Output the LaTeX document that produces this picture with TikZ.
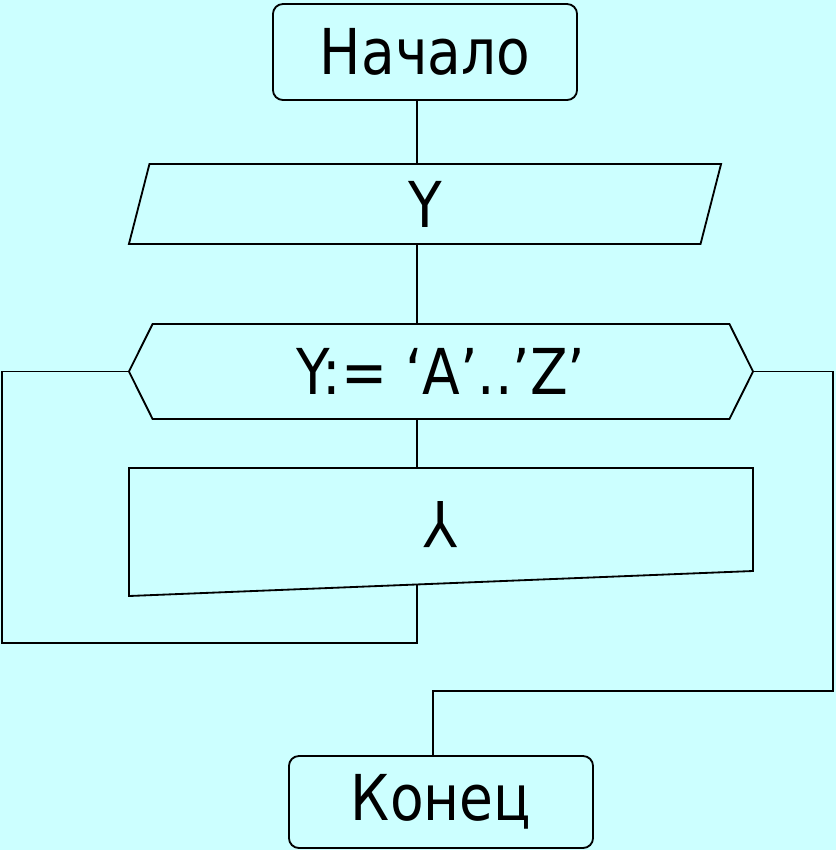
\documentclass[tikz,border=0pt]{standalone}
\usepackage{fontspec}
\setmainfont{DejaVu Sans}[FakeStretch=0.87]
\usetikzlibrary{shapes.geometric,shapes.symbols}
\definecolor{bgcyan}{RGB}{204,255,255}
\begin{document}
\begin{tikzpicture}[x=0.025cm,y=-0.025cm,line width=1.3pt,
        every node/.style={font=\fontsize{45}{54}\selectfont},
        terminal/.style={shape=rectangle,draw=black,rounded corners=0.25cm,minimum width=7.6cm,inner sep=0pt}]
        \fill[bgcyan] (0,0) rectangle (836,850);
        \useasboundingbox (0,0) rectangle (836,850);
        \coordinate (axis) at (417,0);
        \coordinate (exit) at (433,0);
        \node[terminal,minimum height=2.4cm] (start) at (425,52) {Начало};
        \node[shape=trapezium,draw=black,trapezium left angle=66,trapezium right angle=114,trapezium stretches body=true,minimum width=14.8cm,minimum height=2cm,inner sep=0pt] (input) at (425,204) {Y};
        \node[shape=signal,draw=black,signal to=west and east,signal pointer angle=127,minimum width=15.6cm,minimum height=2.375cm,inner sep=0pt] (loop) at (441,371.5) {Y:= ‘A’..’Z’};
        % loop body
        \draw (129,468) -- (753,468) -- (753,571) -- (129,596) -- cycle;
        \coordinate (body-in) at (417,468);
        \coordinate (body-out) at (417,584.5);
        \node (body) at (441,525) {\rotatebox{180}{Y}};
        \node[terminal,minimum height=2.3cm] (stop) at (441,802) {Конец};
        \coordinate (back) at (2,643);
        \coordinate (next) at (833,691);

        \path[-]
        (start.south -| axis) edge (input.north -| axis)
        (input.south -| axis) edge (loop.north -| axis)
        (loop.south -| axis) edge (body-in)
        ;
        \draw (body-out) |- (back) |- (loop.west);
        \draw (loop.east) -| (next) -| (stop.north -| exit);
        \end{tikzpicture}
\end{document}
